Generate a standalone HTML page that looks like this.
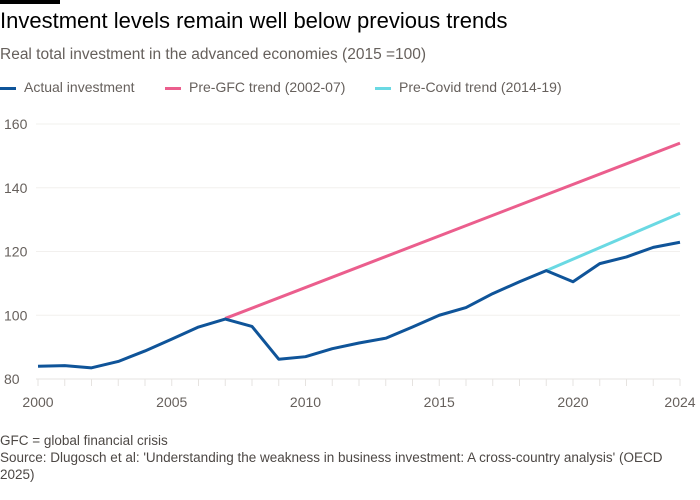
<!DOCTYPE html>
<html><head><meta charset="utf-8"><style>
body{margin:0;width:700px;height:500px;background:#fff;font-family:"Liberation Sans",sans-serif;overflow:hidden;position:relative}
.t{position:absolute;white-space:nowrap}
</style></head><body>
<div style="position:absolute;left:0;top:0;width:60px;height:4px;background:#000"></div>
<div class="t" style="left:0;top:8px;font-size:22px;color:#000">Investment levels remain well below previous trends</div>
<div class="t" style="left:0;top:46px;font-size:15.5px;color:#66605c">Real total investment in the advanced economies (2015 =100)</div>
<div>
<div class="t" style="left:0;top:79px;font-size:14px;color:#66605c"><span style="display:inline-block;width:16px;height:3px;background:#0f5499;vertical-align:middle;margin-right:8px"></span>Actual investment</div>
<div class="t" style="left:165px;top:79px;font-size:14px;color:#66605c"><span style="display:inline-block;width:16px;height:3px;background:#eb5e8d;vertical-align:middle;margin-right:8px"></span>Pre-GFC trend (2002-07)</div>
<div class="t" style="left:375px;top:79px;font-size:14px;color:#66605c"><span style="display:inline-block;width:16px;height:3px;background:#6ad9e3;vertical-align:middle;margin-right:8px"></span>Pre-Covid trend (2014-19)</div>
</div>
<svg id="chart" width="700" height="500" style="position:absolute;left:0;top:0"></svg>
<div class="t" style="left:0;top:432px;font-size:13.5px;color:#4d4845;line-height:17px">GFC = global financial crisis<br>Source: Dlugosch et al: 'Understanding the weakness in business investment: A cross-country analysis' (OECD<br>2025)</div>
<script>
const years=[2000,2001,2002,2003,2004,2005,2006,2007,2008,2009,2010,2011,2012,2013,2014,2015,2016,2017,2018,2019,2020,2021,2022,2023,2024];
const actual=[84,84.2,83.5,85.5,88.8,92.5,96.3,98.8,96.5,86.2,87,89.5,91.3,92.8,96.3,100,102.4,106.8,110.5,114,110.5,116.2,118.3,121.3,122.9];
const gfcYears=[2007,2024];
const gfcTrend=[99,154];
const covidYears=[2019,2024];
const covidTrend=[114,132];
const yTicks=[80,100,120,140,160];
const xTickLabels=[2000,2005,2010,2015,2020,2024];
const NS="http://www.w3.org/2000/svg";
const svg=document.getElementById('chart');
const x=v=>38+(v-2000)*(642/24);
const y=v=>379-(v-80)*(255/80);
function mk(tag,attrs){const e=document.createElementNS(NS,tag);for(const k in attrs)e.setAttribute(k,attrs[k]);svg.appendChild(e);return e;}
yTicks.forEach(v=>{
 const l=mk('line',{x1:36,x2:680,y1:y(v),y2:y(v),stroke:v===80?'#e6e3e0':'#f2f0ee','stroke-width':1});
 
 
 const t=mk('text',{x:4,y:y(v)+5,'font-size':14,fill:'#66605c','font-family':'Liberation Sans'});
 t.textContent=v;
 
 
});
years.forEach(v=>{
 const l=mk('line',{x1:x(v),x2:x(v),y1:y(80),y2:y(80)+7,stroke:'#e6e3e0','stroke-width':1});
 
 
});
xTickLabels.forEach(v=>{
 const t=mk('text',{x:x(v),y:407,'font-size':14,fill:'#66605c','text-anchor':'middle','font-family':'Liberation Sans'});
 t.textContent=v;
 
 
});
function line(xs,ys,color,name){
 const p=mk('polyline',{points:xs.map((v,i)=>x(v)+','+y(ys[i])).join(' '),fill:'none',stroke:color,'stroke-width':3,'stroke-linejoin':'round'});
 
 
}
line(gfcYears,gfcTrend,'#eb5e8d','pre-gfc-trend-line');
line(covidYears,covidTrend,'#6ad9e3','pre-covid-trend-line');
line(years,actual,'#0f5499','actual-investment-line');
</script>
</body></html>
